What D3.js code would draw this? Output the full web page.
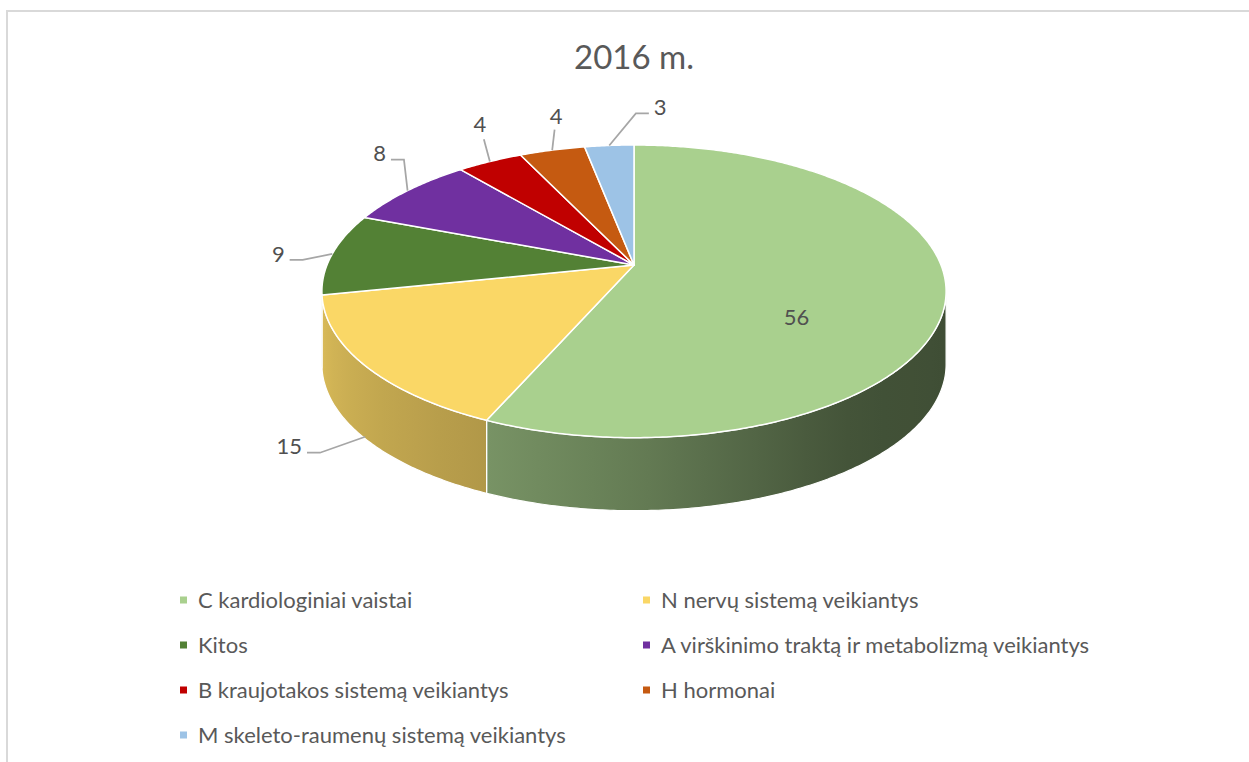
<!DOCTYPE html>
<html>
<head>
<meta charset="utf-8">
<script src="https://cdn.jsdelivr.net/npm/d3@7"></script>
<style>
  html, body { margin: 0; padding: 0; background: #fff; }
  svg { display: block; font-family: Lato, "Noto Sans", sans-serif; }
</style>
</head>
<body>
<svg id="chart" width="1249" height="762"></svg>
<script>
// data
var categories = ["C kardiologiniai vaistai", "N nervų sistemą veikiantys", "Kitos",
  "A virškinimo traktą ir metabolizmą veikiantys", "B kraujotakos sistemą veikiantys",
  "H hormonai", "M skeleto-raumenų sistemą veikiantys"];
var values = [56, 15, 9, 8, 4, 4, 3];
var title = "2016 m.";

// styles / layout
var colors = ["#a9d08e", "#fad766", "#538135", "#7030a0", "#c00000", "#c55a11", "#9dc3e6"];
var labelOffset = [null, [-76, 10], [-54, 0], [-28, -37], [-10, -37], [4, -34], [51, -38]];

var svg = d3.select("#chart");
var cx = 634, cy = 265,       // apex of the pie
    A = 307, B = 141.6,       // projected radii
    a = 0.18,                 // perspective strength
    t = 73;                   // thickness

// perspective projection of a point on the pie top (theta clockwise from top)
function proj(theta, r) {
  var x = r * Math.sin(theta), z = -r * Math.cos(theta);
  var w = 1 - a * z;
  return [cx + A * x / w, cy + B * z / w];
}
function arcPts(t0, t1, dy) {
  var n = Math.max(2, Math.ceil(Math.abs(t1 - t0) / 0.01));
  return d3.range(n + 1).map(function(i) {
    var p = proj(t0 + (t1 - t0) * i / n, 1);
    return [p[0], p[1] + (dy || 0)];
  });
}
var line = d3.line();

// frame
svg.append("rect")
  .attr("x", 7).attr("y", 11).attr("width", 1400).attr("height", 900)
  .attr("fill", "none").attr("stroke", "#d9d9d9").attr("stroke-width", 2);

// title
svg.append("text")
  .attr("x", cx).attr("y", 69)
  .attr("text-anchor", "middle")
  .attr("fill", "#595959")
  .style("font-size", "33px")
  .text(title);

var pie = d3.pie().sort(null).value(function(d) { return d; });
var arcs = pie(values);

// lighting of the side wall by angle (degrees)
var light = d3.scaleLinear()
  .domain([100, 140, 155, 180, 204, 260])
  .range([0.37, 0.39, 0.45, 0.6, 0.71, 0.88])
  .clamp(true);

var thL = Math.acos(-a), thR = 2 * Math.PI - Math.acos(-a);
var defs = svg.append("defs");
var gSide = svg.append("g");

arcs.forEach(function(d, i) {
  var s = Math.max(d.startAngle, thL), e = Math.min(d.endAngle, thR);
  if (e <= s) return;
  var top = arcPts(s, e, 0), bot = arcPts(e, s, t);
  var xs = top.map(function(p) { return p[0]; });
  var x1 = d3.min(xs), x2 = d3.max(xs);
  var grad = defs.append("linearGradient")
    .attr("id", "side" + i)
    .attr("gradientUnits", "userSpaceOnUse")
    .attr("x1", x1).attr("x2", x2).attr("y1", 0).attr("y2", 0);
  var base = d3.rgb(colors[i]);
  var stops = d3.range(13).map(function(k) {
    var th = s + (e - s) * k / 12;
    var px = proj(th, 1)[0];
    var f = light(th * 180 / Math.PI);
    return {
      offset: x2 > x1 ? (px - x1) / (x2 - x1) : 0,
      color: d3.rgb(base.r * f, base.g * f, base.b * f).formatHex()
    };
  }).sort(function(p, q) { return p.offset - q.offset; });
  stops.forEach(function(st) {
    grad.append("stop").attr("offset", st.offset).attr("stop-color", st.color);
  });
  gSide.append("path")
    .attr("d", line(top.concat(bot)) + "Z")
    .attr("fill", "url(#side" + i + ")")
    .attr("stroke", "#fff").attr("stroke-width", 1.2)
    .attr("stroke-linejoin", "round");
});

// top faces
svg.append("g").selectAll("path")
  .data(arcs)
  .join("path")
  .attr("d", function(d) { return line([[cx, cy]].concat(arcPts(d.startAngle, d.endAngle, 0))) + "Z"; })
  .attr("fill", function(d, i) { return colors[i]; })
  .attr("stroke", "#fff").attr("stroke-width", 1.5)
  .attr("stroke-linejoin", "round");

// data labels
var gLab = svg.append("g");
arcs.forEach(function(d, i) {
  var mid = (d.startAngle + d.endAngle) / 2;
  if (!labelOffset[i]) {
    var p0 = proj(mid, 0.53);
    gLab.append("text")
      .attr("x", p0[0]).attr("y", p0[1] + t / 2)
      .attr("dy", "0.35em").attr("text-anchor", "middle")
      .attr("fill", "#505050").style("font-size", "22px")
      .text(values[i]);
    return;
  }
  var p = proj(mid, 1);
  if (-Math.cos(mid) > 0.3) p[1] += t - 2;
  var off = labelOffset[i];
  var L = [p[0] + off[0], p[1] + off[1]];
  var txt = gLab.append("text")
    .attr("x", L[0]).attr("y", L[1])
    .attr("dy", "0.35em").attr("text-anchor", "middle")
    .attr("fill", "#505050").style("font-size", "22px")
    .text(values[i]);
  var hw = txt.node().getComputedTextLength() / 2;
  var pts;
  if (Math.abs(off[0]) > 20) {
    var side = off[0] < 0 ? -1 : 1;
    var at = [L[0] - side * (hw + 5), L[1] + 6];
    pts = [at, [at[0] - side * 13, at[1]], p];
  } else {
    pts = [[L[0] + (p[0] - L[0]) * 0.4, L[1] + (p[1] - L[1]) * 0.4], p];
  }
  gLab.append("path")
    .attr("d", line(pts))
    .attr("fill", "none").attr("stroke", "#a6a6a6").attr("stroke-width", 1.75);
});

// legend
var legend = svg.append("g").attr("transform", "translate(180,600)");
var item = legend.selectAll("g")
  .data(categories)
  .join("g")
  .attr("transform", function(d, i) { return "translate(" + (i % 2) * 463 + "," + Math.floor(i / 2) * 45 + ")"; });
item.append("rect")
  .attr("x", 0).attr("y", -3.5).attr("width", 7).attr("height", 7)
  .attr("fill", function(d, i) { return colors[i]; });
item.append("text")
  .attr("x", 18).attr("dy", "0.35em")
  .attr("fill", "#595959").style("font-size", "22px")
  .text(function(d) { return d; });
</script>
</body>
</html>
